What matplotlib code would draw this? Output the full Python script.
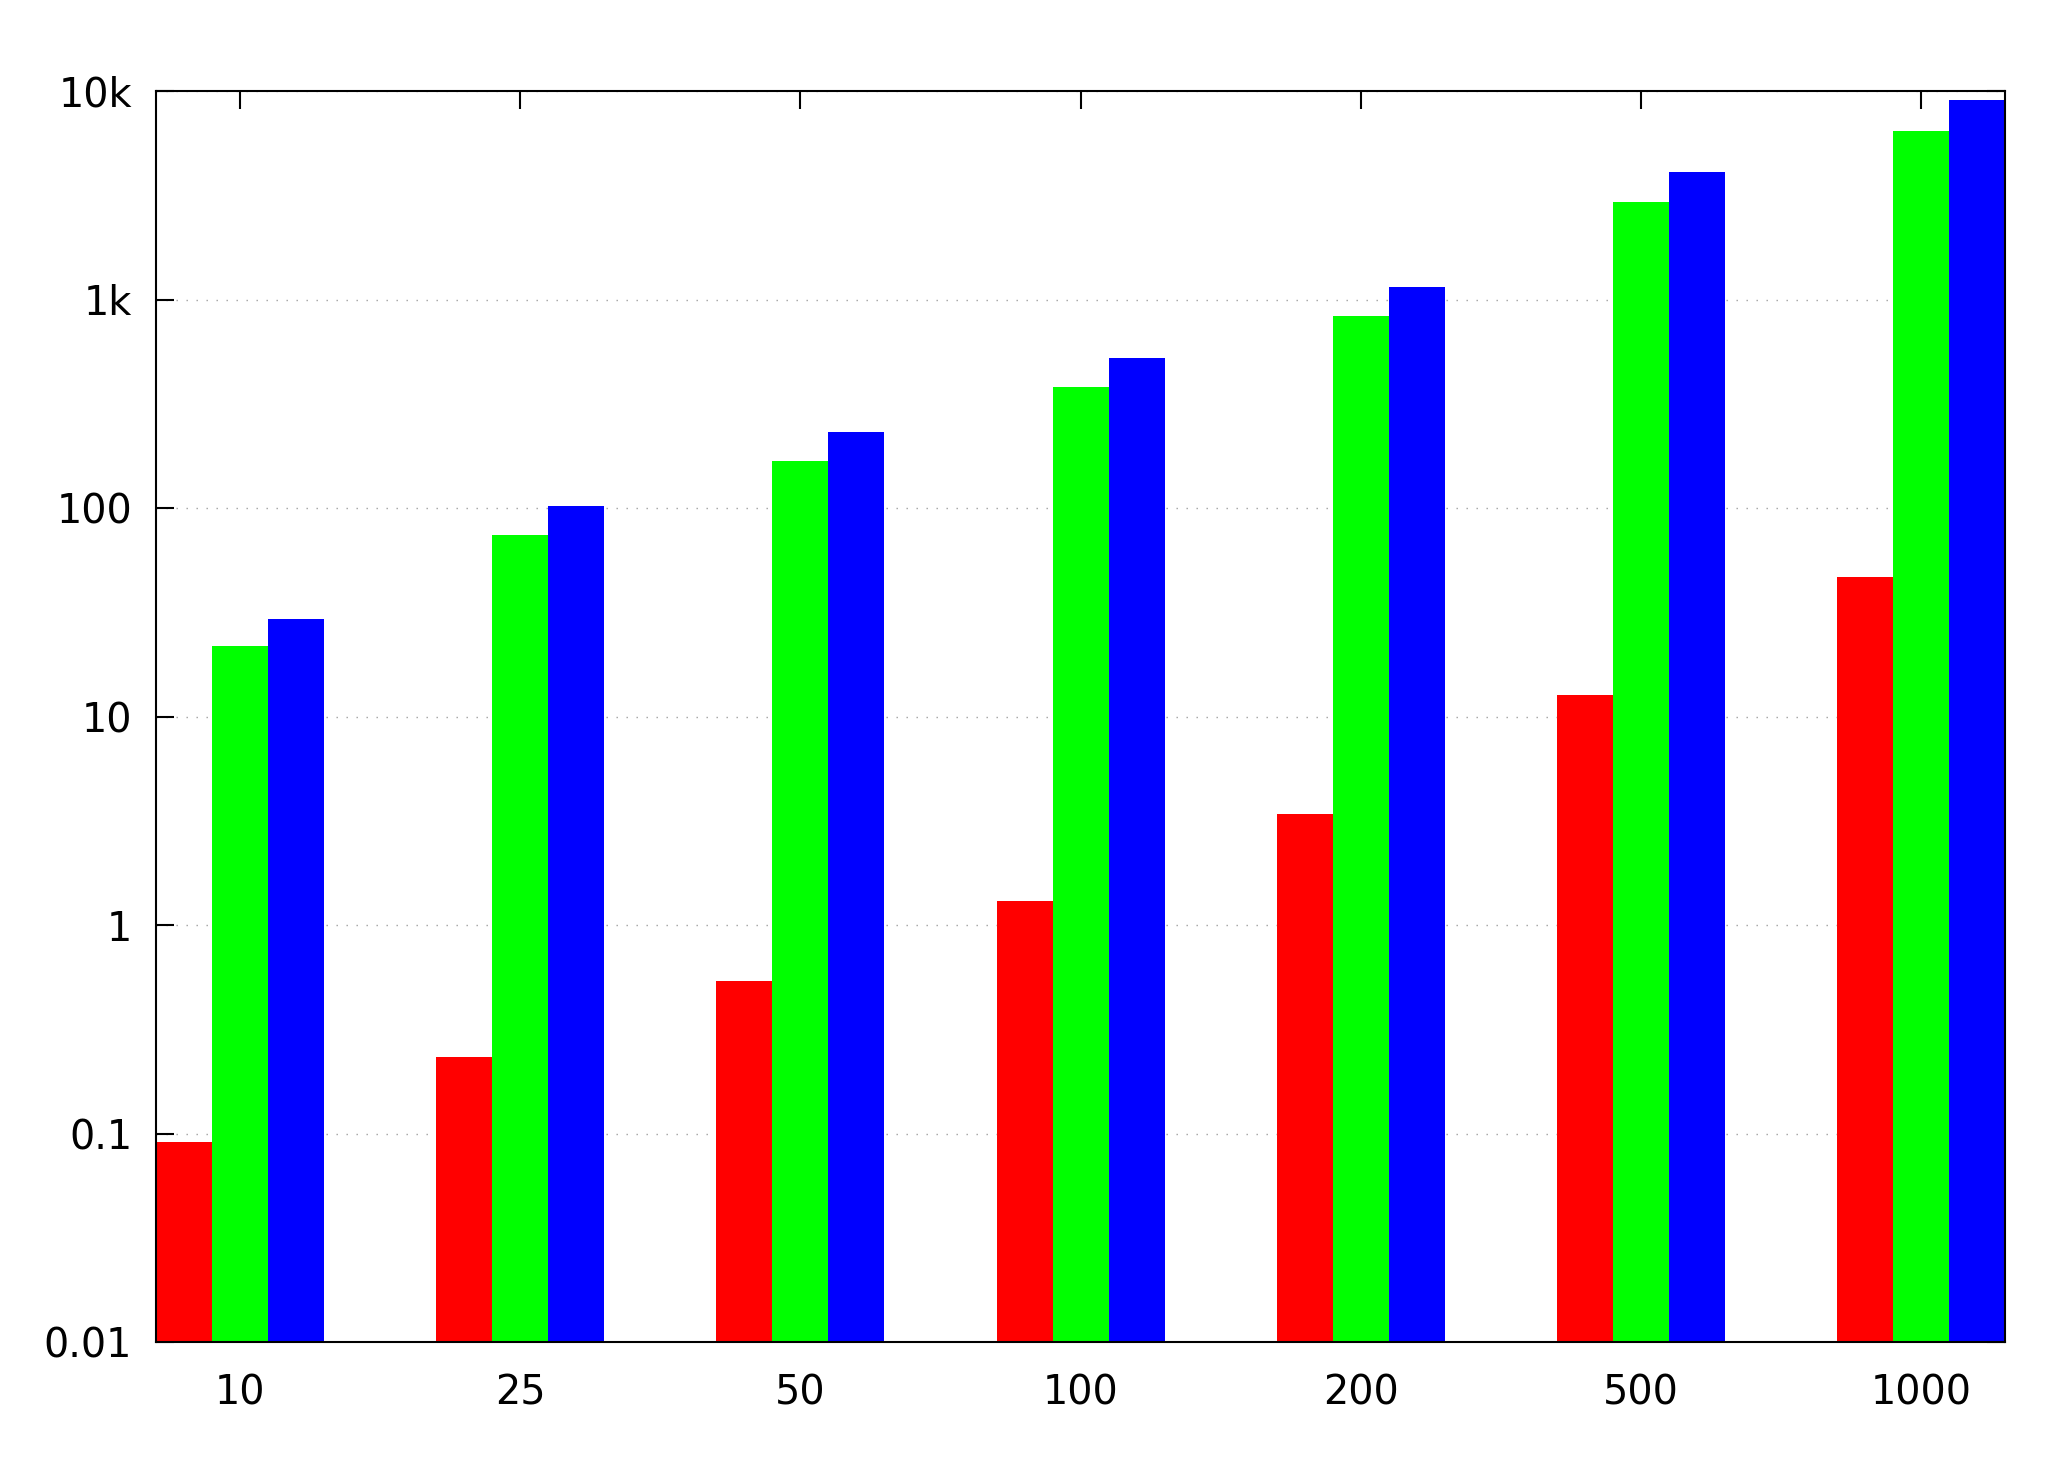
import numpy as np
import matplotlib
matplotlib.use("Agg")
import matplotlib.pyplot as plt

# categories and bar heights (log scale)
categories = ["10", "25", "50", "100", "200", "500", "1000"]
red_vals   = [0.0905, 0.233, 0.537, 1.31, 3.42, 12.7, 46.6]
green_vals = [21.9, 74.3, 168, 381, 837, 2940, 6450]
blue_vals  = [29.6, 102.5, 232, 525, 1154, 4107, 9085]

ytick_vals   = [0.01, 0.1, 1, 10, 100, 1000, 10000]
ytick_labels = ["0.01", "0.1", "1", "10", "100", "1k", "10k"]

plt.rcParams["font.family"] = ["DejaVu Sans"]
plt.rcParams["font.size"] = 14.3

fig = plt.figure(figsize=(10.36, 7.32), dpi=200)
ax = fig.add_axes([0.0753, 0.0831, 0.9677 - 0.0753, 0.9376 - 0.0831])

x = np.arange(len(categories))
w = 0.2
ax.bar(x - w, red_vals, width=w, color="#ff0000", linewidth=0, bottom=0.001)
ax.bar(x, green_vals, width=w, color="#00ff00", linewidth=0, bottom=0.001)
ax.bar(x + w, blue_vals, width=w, color="#0000ff", linewidth=0, bottom=0.001)

ax.set_yscale("log")
ax.set_ylim(0.01, 10000)
ax.set_xlim(-0.3, len(categories) - 1 + 0.3)

ax.set_yticks(ytick_vals)
ax.set_yticklabels(ytick_labels)
ax.yaxis.set_minor_locator(matplotlib.ticker.NullLocator())
ax.set_xticks(x)
ax.set_xticklabels(categories)

ax.tick_params(axis="both", which="major", direction="in", length=6.5, width=0.75,
               top=True, right=True, colors="black")
ax.tick_params(axis="y", pad=8.6)
ax.tick_params(axis="x", pad=11.2)

ax.set_axisbelow(True)
ax.yaxis.grid(True, color="#a0a0a0", linewidth=0.5, linestyle=(0, (1, 6.2)))

for s in ax.spines.values():
    s.set_linewidth(0.75)
    s.set_zorder(3)

fig.savefig("out.png", dpi=200)
